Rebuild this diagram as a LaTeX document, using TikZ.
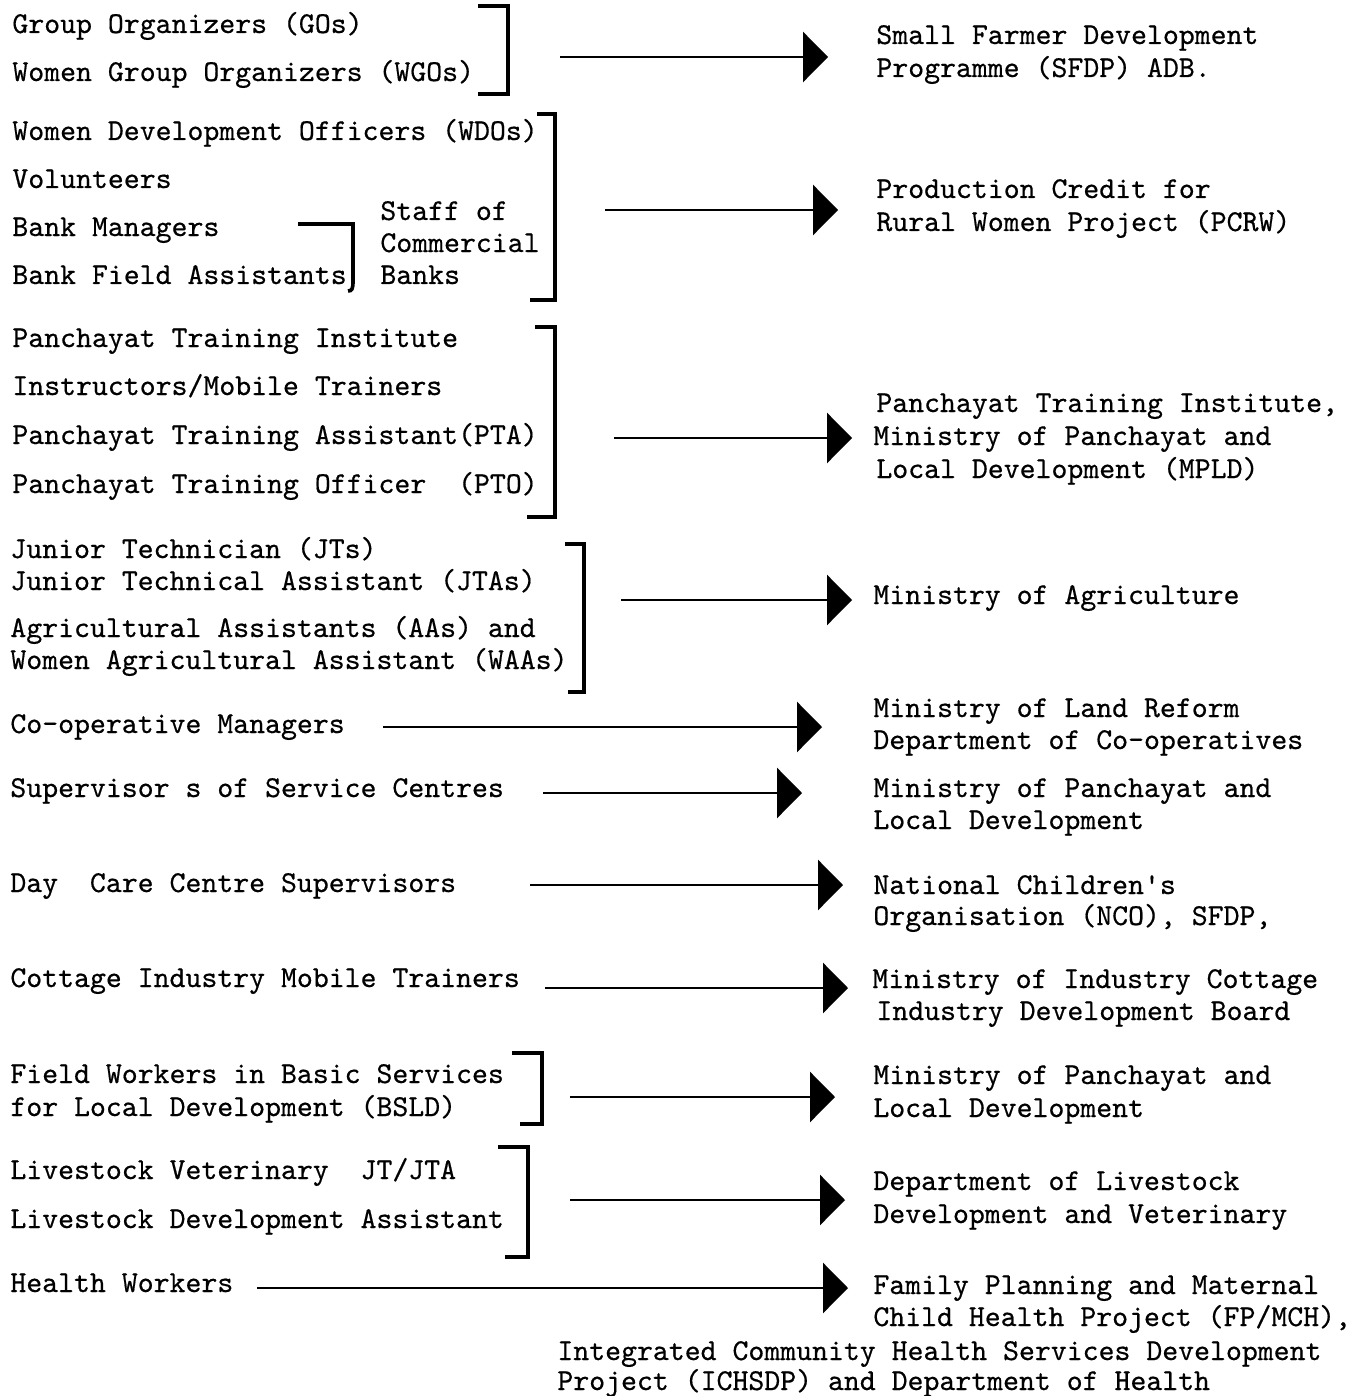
\documentclass[tikz,border=0pt]{standalone}
\usepackage{fontspec}
\newfontfamily\twfont{lmmono10-regular.otf}[FakeBold=0.5]
\usetikzlibrary{arrows.meta}
\tikzset{
  txt/.style={anchor=base west, inner sep=0pt, font=\twfont\fontsize{15.16}{18}\selectfont},
  brk/.style={line width=2.2pt, line join=miter},
  arr/.style={line width=1.4pt, -{Triangle[length=12.5pt,width=25pt]}},
}
\begin{document}
\begin{tikzpicture}[x=0.5pt,y=-0.5pt]
\useasboundingbox[fill=white] (0,0) rectangle (1362,1396);
% ---- left column
\node[txt] (l1) at (12,33) {Group Organizers (GOs)};
\node[txt] (l2) at (12,81) {Women Group Organizers (WGOs)};
\node[txt] (l3) at (12,140) {Women Development Officers (WDOs)};
\node[txt] (l4) at (12,188) {Volunteers};
\node[txt] (l5) at (12,236) {Bank Managers};
\node[txt] (l6) at (12,284) {Bank Field Assistants};
\node[txt] (s1) at (380,220) {Staff of};
\node[txt] (s2) at (380,252) {Commercial};
\node[txt] (s3) at (380,284) {Banks};
\node[txt] (l7) at (12,347) {Panchayat Training Institute};
\node[txt] (l8) at (12,395) {Instructors/Mobile Trainers};
\node[txt] (l9) at (12,444) {Panchayat Training Assistant(PTA)};
\node[txt] (l10) at (12,493) {Panchayat Training Officer\ \ (PTO)};
\node[txt] (l11) at (10,558) {Junior Technician (JTs)};
\node[txt] (l12) at (10,590) {Junior Technical Assistant (JTAs)};
\node[txt] (l13) at (10,637) {Agricultural Assistants (AAs) and};
\node[txt] (l14) at (10,669) {Women Agricultural Assistant (WAAs)};
\node[txt] (l15) at (10,733) {Co-operative Managers};
\node[txt] (l16) at (10,797) {Supervisor s of Service Centres};
\node[txt] (l17) at (10,892) {Day\ \ Care Centre Supervisors};
\node[txt] (l18) at (10,987) {Cottage Industry Mobile Trainers};
\node[txt] (l19) at (10,1083) {Field Workers in Basic Services};
\node[txt] (l20) at (10,1116) {for Local Development (BSLD)};
\node[txt] (l21) at (10,1179) {Livestock Veterinary\ \ JT/JTA};
\node[txt] (l22) at (10,1228) {Livestock Development Assistant};
\node[txt] (l23) at (10,1292) {Health Workers};
% ---- right column
\node[txt] (r1a) at (876,44) {Small Farmer Development};
\node[txt] (r1b) at (876,77) {Programme (SFDP) ADB.};
\node[txt] (r2a) at (876,198) {Production Credit for};
\node[txt] (r2b) at (876,231) {Rural Women Project (PCRW)};
\node[txt] (r3a) at (876,412) {Panchayat Training Institute,};
\node[txt] (r3b) at (873,445) {Ministry of Panchayat and};
\node[txt] (r3c) at (876,478) {Local Development (MPLD)};
\node[txt] (r4) at (873,604) {Ministry of Agriculture};
\node[txt] (r5a) at (873,717) {Ministry of Land Reform};
\node[txt] (r5b) at (873,749) {Department of Co-operatives};
\node[txt] (r6a) at (873,797) {Ministry of Panchayat and};
\node[txt] (r6b) at (873,829) {Local Development};
\node[txt] (r7a) at (873,894) {National Children's};
\node[txt] (r7b) at (873,925) {Organisation (NCO), SFDP,};
\node[txt] (r8a) at (872,988) {Ministry of Industry Cottage};
\node[txt] (r8b) at (876,1020) {Industry Development Board};
\node[txt] (r9a) at (873,1084) {Ministry of Panchayat and};
\node[txt] (r9b) at (873,1117) {Local Development};
\node[txt] (r10a) at (873,1190) {Department of Livestock};
\node[txt] (r10b) at (873,1223) {Development and Veterinary};
\node[txt] (r11a) at (873,1294) {Family Planning and Maternal};
\node[txt] (r11b) at (873,1326) {Child Health Project (FP/MCH),};
\node[txt] (r11c) at (557,1360) {Integrated Community Health Services Development};
\node[txt] (r11d) at (557,1390) {Project (ICHSDP) and Department of Health};
% ---- brackets
\draw[brk] (478,6) -- (508,6) -- (508,94) -- (478,94);
\draw[brk] (537,114) -- (555,114) -- (555,300) -- (530,300);
\draw[line width=1.8pt] (298,224) -- (353,224) -- (353,281)
   .. controls (353,289) and (352,291) .. (348,291);
\draw[brk] (535,327) -- (555,327) -- (555,517) -- (527,517);
\draw[brk] (565,544) -- (584,544) -- (584,692) -- (568,692);
\draw[brk] (512,1053) -- (542,1053) -- (542,1124) -- (520,1124);
\draw[brk] (498,1147) -- (528,1147) -- (528,1257) -- (505,1257);
% ---- arrow start / end points
\coordinate (a1s) at (560,57);  \coordinate (a1e) at (828,57);
\coordinate (a2s) at (605,210); \coordinate (a2e) at (838,210);
\coordinate (a3s) at (614,438); \coordinate (a3e) at (852,438);
\coordinate (a4s) at (621,600); \coordinate (a4e) at (852,600);
\coordinate (a5s) at (383,727); \coordinate (a5e) at (822,727);
\coordinate (a6s) at (543,793); \coordinate (a6e) at (802,793);
\coordinate (a7s) at (530,885); \coordinate (a7e) at (843,885);
\coordinate (a8s) at (545,988); \coordinate (a8e) at (848,988);
\coordinate (a9s) at (570,1097); \coordinate (a9e) at (835,1097);
\coordinate (a10s) at (570,1200); \coordinate (a10e) at (845,1200);
\coordinate (a11s) at (257,1288); \coordinate (a11e) at (848,1288);
\foreach \i in {1,...,11} { \draw[arr] (a\i s) -- (a\i e); }
\end{tikzpicture}
\end{document}
